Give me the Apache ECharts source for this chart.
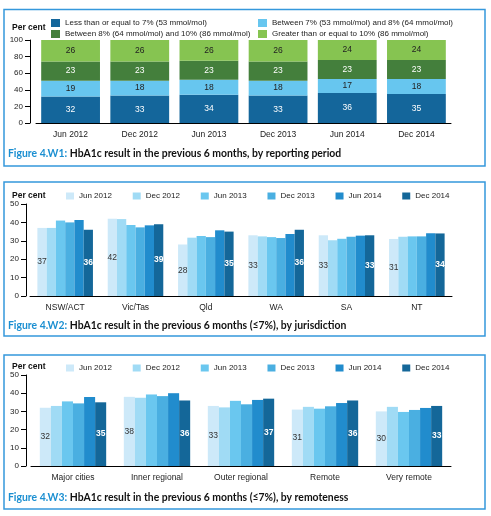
<!DOCTYPE html>
<html><head><meta charset="utf-8">
<script src="https://cdn.jsdelivr.net/npm/echarts@6/dist/echarts.min.js"></script>
<style>html,body{margin:0;padding:0;background:#fff}#c{width:491px;height:516px}</style>
</head><body><div id="c"></div>
<script>
// ---- Data ----
const periods = ['Jun 2012','Dec 2012','Jun 2013','Dec 2013','Jun 2014','Dec 2014'];
const bandNames = ['Less than or equal to 7% (53 mmol/mol)','Between 7% (53 mmol/mol) and 8% (64 mmol/mol)','Between 8% (64 mmol/mol) and 10% (86 mmol/mol)','Greater than or equal to 10% (86 mmol/mol)'];
const bandLe7 = [32,33,34,33,36,35];
const band7to8 = [19,18,18,18,17,18];
const band8to10 = [23,23,23,23,23,23];
const bandGe10 = [26,26,26,26,24,24];

const jurisdictions = ['NSW/ACT','Vic/Tas','Qld','WA','SA','NT'];
const jurJun2012 = [37,42,28,33,33,31];
const jurDec2012 = [37,41.8,31.7,32.4,30.3,32.2];
const jurJun2013 = [41,38.6,32.6,32,31.1,32.4];
const jurDec2013 = [40,37.3,32,31.5,32.2,32.4];
const jurJun2014 = [41.3,38.4,35.7,33.7,32.8,34.1];
const jurDec2014 = [36,39,35,36,33,34];

const remoteness = ['Major cities','Inner regional','Outer regional','Remote','Very remote'];
const remJun2012 = [32,38,33,31,30];
const remDec2012 = [33,37.5,32.2,32.5,32.5];
const remJun2013 = [35.5,39.3,35.8,31.5,29.7];
const remDec2013 = [34.4,38.4,33.9,32.8,30.8];
const remJun2014 = [37.9,40,36.3,34.6,31.9];
const remDec2014 = [35,36,37,36,33];

const captions = [
  ['Figure 4.W1: ','HbA1c result in the previous 6 months, by reporting period'],
  ['Figure 4.W2: ','HbA1c result in the previous 6 months (\u22647%), by jurisdiction'],
  ['Figure 4.W3: ','HbA1c result in the previous 6 months (\u22647%), by remoteness']
];

// ---- Styles ----
const FONT = '"Liberation Sans", Arial, sans-serif';
const bandColors = ['#14669b','#67c6ef','#447f3c','#86c451'];
const bandLabelColors = ['#fff','#222','#fff','#222'];
const periodColors = ['#cde9f9','#a0dbf5','#6ac7ef','#4aafe1','#218ccd','#146799'];
const axisLine = {show:true, lineStyle:{color:'#000', width:1}};

const grids = [
  {left:36, right:40, top:40, bottom:516-123},
  {left:30, right:39, top:204, bottom:516-296},
  {left:31, right:40, top:375, bottom:516-466}
];

function yAx(gi, max, interval, offset){
  return {type:'value', gridIndex:gi, min:0, max:max, interval:interval, offset:offset,
    axisLine:axisLine, axisTick:{show:true, length:5, lineStyle:{color:'#000'}},
    axisLabel:{fontFamily:FONT, fontSize:8, color:'#222', margin:7},
    splitLine:{show:false}};
}
function xAx(gi, data){
  return {type:'category', gridIndex:gi, data:data, axisLine:axisLine, axisTick:{show:false},
    axisLabel:{fontFamily:FONT, fontSize:8.5, color:'#222', margin:7}};
}

const series = [];
[bandLe7, band7to8, band8to10, bandGe10].forEach((d,i)=>{
  series.push({type:'bar', name:bandNames[i], xAxisIndex:0, yAxisIndex:0, stack:'p', data:d,
    barCategoryGap:'15%', itemStyle:{color:bandColors[i]},
    label:{show:true, position:'inside', fontFamily:FONT, fontSize:8.5, color:bandLabelColors[i]}});
});
function groupSeries(arrs, axisIdx){
  arrs.forEach((d,i)=>{
    const lbl = (i===0)
      ? {show:true, position:'inside', fontFamily:FONT, fontSize:8.5, color:'#333', formatter:p=>Math.round(p.value)}
      : (i===5 ? {show:true, position:'inside', fontFamily:FONT, fontSize:8.5, fontWeight:'bold', color:'#fff', formatter:p=>Math.round(p.value)} : {show:false});
    series.push({type:'bar', name:periods[i], xAxisIndex:axisIdx, yAxisIndex:axisIdx, data:d,
      barGap:'0%', barCategoryGap:'21%', itemStyle:{color:periodColors[i]}, label:lbl});
  });
}
groupSeries([jurJun2012,jurDec2012,jurJun2013,jurDec2013,jurJun2014,jurDec2014], 1);
groupSeries([remJun2012,remDec2012,remJun2013,remDec2013,remJun2014,remDec2014], 2);

const legendText = {fontFamily:FONT, fontSize:8, color:'#222'};
const legends = [
  {orient:'vertical', left:51, top:19, padding:0, itemWidth:9, itemHeight:8, itemGap:3, icon:'rect',
   data:[bandNames[0], bandNames[2]], textStyle:legendText, selectedMode:false},
  {orient:'vertical', left:258, top:19, padding:0, itemWidth:9, itemHeight:8, itemGap:3, icon:'rect',
   data:[bandNames[1], bandNames[3]], textStyle:legendText, selectedMode:false},
  {orient:'horizontal', left:66, top:192, padding:0, itemWidth:8, itemHeight:7, itemGap:20.8, icon:'rect',
   data:periods, textStyle:legendText, selectedMode:false},
  {orient:'horizontal', left:66, top:364, padding:0, itemWidth:8, itemHeight:7, itemGap:20.8, icon:'rect',
   data:periods, textStyle:legendText, selectedMode:false}
];

const captionY = [156, 328, 500];
const titles = captions.map((c,i)=>({
  text:'{a|'+c[0]+'}{b|'+c[1]+'}', left:8, top:captionY[i]-7, padding:0,
  textStyle:{rich:{
    a:{fontFamily:'Lato, sans-serif', fontWeight:'bold', fontSize:10.4, color:'#1b8fd1'},
    b:{fontFamily:'Lato, sans-serif', fontWeight:'bold', fontSize:10.4, color:'#111'}
  }}
}));

const panelBox = [[9.5,166],[182,336],[355,509]];
const perCentY = [28,196,367];
const graphic = [];
panelBox.forEach(b=>graphic.push({type:'rect', shape:{x:4, y:b[0], width:481, height:b[1]-b[0]},
  style:{fill:'none', stroke:'#3598dc', lineWidth:1.5}, z:-1}));
perCentY.forEach(y=>graphic.push({type:'text', x:12, y:y,
  style:{text:'Per cent', font:'bold 8.5px '+FONT, fill:'#111', verticalAlign:'middle'}}));

const chart = echarts.init(document.getElementById('c'), null, {renderer:'canvas'});
chart.setOption({
  backgroundColor:'#fff', animation:false,
  title:titles, legend:legends, grid:grids,
  xAxis:[xAx(0,periods), xAx(1,jurisdictions), xAx(2,remoteness)],
  yAxis:[yAx(0,100,20,6), yAx(1,50,10,4), yAx(2,50,10,5)],
  series:series, graphic:graphic
});
</script></body></html>
